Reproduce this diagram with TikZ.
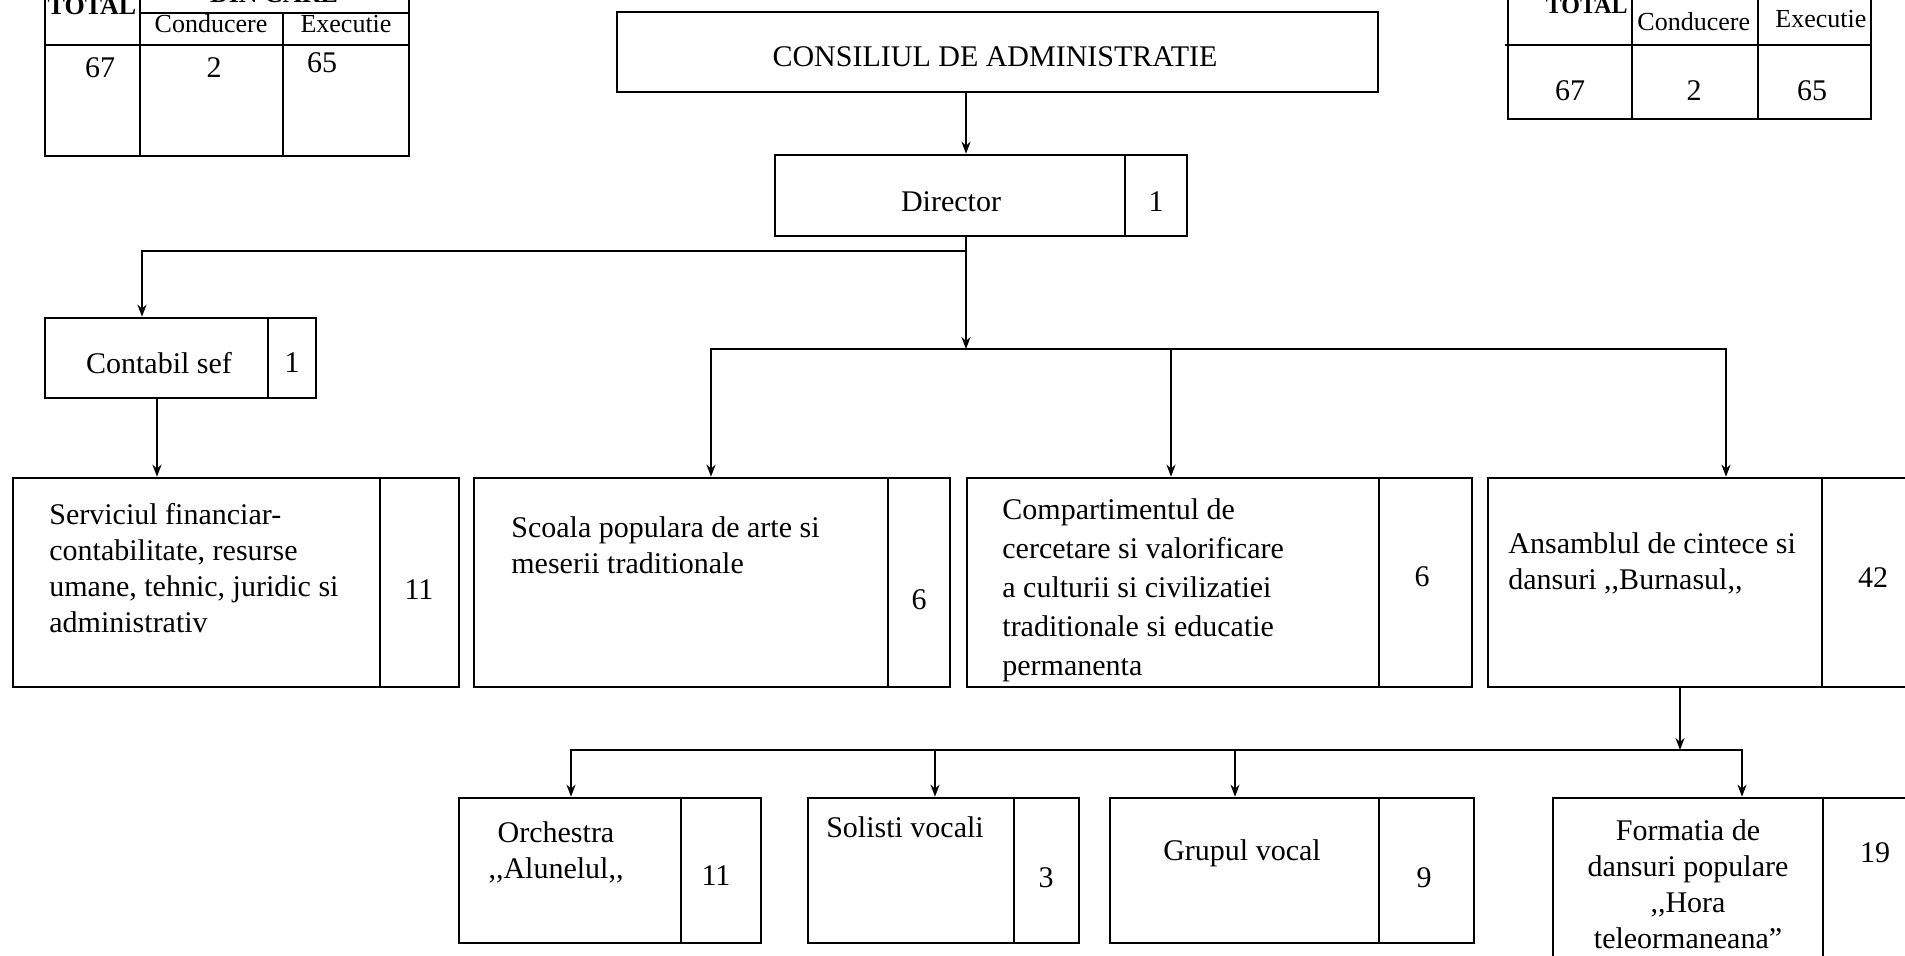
\documentclass[tikz,border=0pt]{standalone}
\usepackage{fontspec}
\setmainfont{Liberation Serif}
\usetikzlibrary{fit,arrows.meta}
\begin{document}
\begin{tikzpicture}[x=0.5pt,y=-0.5pt,
  box/.style={draw, line width=1.3pt, inner sep=0pt},
  txt/.style={font=\fontsize{15pt}{18pt}\selectfont, inner sep=0pt},
  txtb/.style={font=\fontsize{15pt}{19.5pt}\selectfont, inner sep=0pt},
  hdr/.style={font=\fontsize{13pt}{15pt}\selectfont, inner sep=0pt},
  hdrb/.style={font=\bfseries\fontsize{13pt}{15pt}\selectfont, inner sep=0pt},
  tline/.style={line width=1.3pt},
  conn/.style={line width=1.1pt},
  arr/.style={line width=1.1pt, -{Stealth[length=6pt,width=4.5pt]}}]
\useasboundingbox (0,0) rectangle (1905,955);
\clip (0,0) rectangle (1905,955);

% ---------- top-left table ----------
\draw[tline] (45,-10) -- (45,156) -- (409,156) -- (409,-10);
\draw[tline] (140,-10) -- (140,156);
\draw[tline] (283,13) -- (283,156);
\draw[tline] (140,13) -- (409,13);
\draw[tline] (45,45) -- (409,45);
\node[hdrb, anchor=base] (tltotal) at (92,14) {TOTAL};
\node[hdrb, anchor=base] (tldin) at (274,2) {DIN CARE};
\node[hdr, anchor=base] (tlcond) at (211,32) {Conducere};
\node[hdr, anchor=base] (tlexec) at (346,32) {Executie};
\node[txt] (tla) at (100,68) {67};
\node[txt] (tlb) at (214,68) {2};
\node[txt] (tlc) at (322,63) {65};

% ---------- top-right table ----------
\draw[tline] (1508,-10) -- (1508,119) -- (1871,119) -- (1871,-10);
\draw[tline] (1632,-10) -- (1632,119);
\draw[tline] (1758,-10) -- (1758,119);
\draw[tline] (1505,45) -- (1871,45);
\node[hdrb, anchor=base east, font=\bfseries\fontsize{12pt}{14pt}\selectfont] (trtotal) at (1628,13) {TOTAL};
\node[hdr, anchor=base west] (trcond) at (1637,30) {Conducere};
\node[hdr, anchor=base west] (trexec) at (1775,27) {Executie};
\node[txt] (tra) at (1570,91) {67};
\node[txt] (trb) at (1694,91) {2};
\node[txt] (trc) at (1812,91) {65};

% ---------- boxes ----------
\node[box, fit={(617,12) (1378,92)}] (cons) {};
\node[txt] (const) at (995,57) {CONSILIUL DE ADMINISTRATIE};

\node[box, fit={(775,155) (1125,236)}] (dir) {};
\node[box, fit={(1125,155) (1187,236)}] (dirn) {};
\node[txt] (dirt) at (951,202) {Director};
\node[txt] (dirnt) at (1156,202) {1};

\node[box, fit={(45,318) (268,398)}] (cont) {};
\node[box, fit={(268,318) (316,398)}] (contn) {};
\node[txt] (contt) at (159,363) {Contabil sef};
\node[txt] (contnt) at (292,363) {1};

\node[box, fit={(13,478) (380,687)}] (serv) {};
\node[box, fit={(380,478) (459,687)}] (servn) {};
\node[txt, align=left, anchor=north west] (servt) at (49,503) {Serviciul financiar-\\contabilitate, resurse\\umane, tehnic, juridic si\\administrativ};
\node[txt] (servnt) at (419,590) {11};

\node[box, fit={(474,478) (888,687)}] (scoala) {};
\node[box, fit={(888,478) (950,687)}] (scoalan) {};
\node[txt, align=left, anchor=north west] (scoalat) at (511,516) {Scoala populara de arte si\\meserii traditionale};
\node[txt] (scoalant) at (919,600) {6};

\node[box, fit={(967,478) (1379,687)}] (comp) {};
\node[box, fit={(1379,478) (1472,687)}] (compn) {};
\node[txtb, align=left, anchor=north west] (compt) at (1002,498) {Compartimentul de\\cercetare si valorificare\\a culturii si civilizatiei\\traditionale si educatie\\permanenta};
\node[txt] (compnt) at (1422,577) {6};

\node[box, fit={(1488,478) (1822,687)}] (ans) {};
\node[box, fit={(1822,478) (1930,687)}] (ansn) {};
\node[txt, align=left, anchor=north west] (anst) at (1508,532) {Ansamblul de cintece si\\dansuri ,{},Burnasul,{},};
\node[txt] (ansnt) at (1873,578) {42};

\node[box, fit={(459,798) (681,943)}] (orch) {};
\node[box, fit={(681,798) (761,943)}] (orchn) {};
\node[txt, align=center, anchor=north] (orcht) at (556,821) {Orchestra\\,{},Alunelul,{},};
\node[txt] (orchnt) at (716,876) {11};

\node[box, fit={(808,798) (1014,943)}] (sol) {};
\node[box, fit={(1014,798) (1079,943)}] (soln) {};
\node[txt] (solt) at (905,827) {Solisti vocali};
\node[txt] (solnt) at (1046,878) {3};

\node[box, fit={(1110,798) (1379,943)}] (grup) {};
\node[box, fit={(1379,798) (1474,943)}] (grupn) {};
\node[txt] (grupt) at (1242,853) {Grupul vocal};
\node[txt] (grupnt) at (1424,878) {9};

\node[box, fit={(1553,798) (1823,1000)}] (form) {};
\node[box, fit={(1823,798) (1930,1000)}] (formn) {};
\node[txt, align=center, anchor=north] (formt) at (1688,819) {Formatia de\\dansuri populare\\,{},Hora\\teleormaneana''};
\node[txt] (formnt) at (1875,853) {19};

% ---------- connectors ----------
\coordinate (xa) at (966,0);
\coordinate (ja) at (966,251);
\coordinate (jb) at (966,349);
\coordinate (xc) at (142,0);
\coordinate (xs) at (157,0);
\coordinate (x1) at (711,0);
\coordinate (x2) at (1171,0);
\coordinate (x3) at (1726,0);
\coordinate (xd) at (1680,0);
\coordinate (jc) at (1680,750);
\coordinate (b1) at (571,0);
\coordinate (b2) at (935,0);
\coordinate (b3) at (1235,0);
\coordinate (b4) at (1742,0);

\draw[arr] (cons.south -| xa) -- (dir.north -| xa);
\draw[conn] (dir.south -| xa) -- (ja);
\draw[arr] (ja) -| (cont.north -| xc);
\draw[arr] (ja) -- (jb);
\draw[arr] (jb) -| (scoala.north -| x1);
\draw[arr] (jb) -| (comp.north -| x2);
\draw[arr] (jb) -| (ans.north -| x3);
\draw[arr] (cont.south -| xs) -- (serv.north -| xs);
\draw[arr] (ans.south -| xd) -- (jc);
\draw[arr] (jc) -| (orch.north -| b1);
\draw[arr] (jc) -| (sol.north -| b2);
\draw[arr] (jc) -| (grup.north -| b3);
\draw[arr] (jc) -| (form.north -| b4);
\end{tikzpicture}
\end{document}
